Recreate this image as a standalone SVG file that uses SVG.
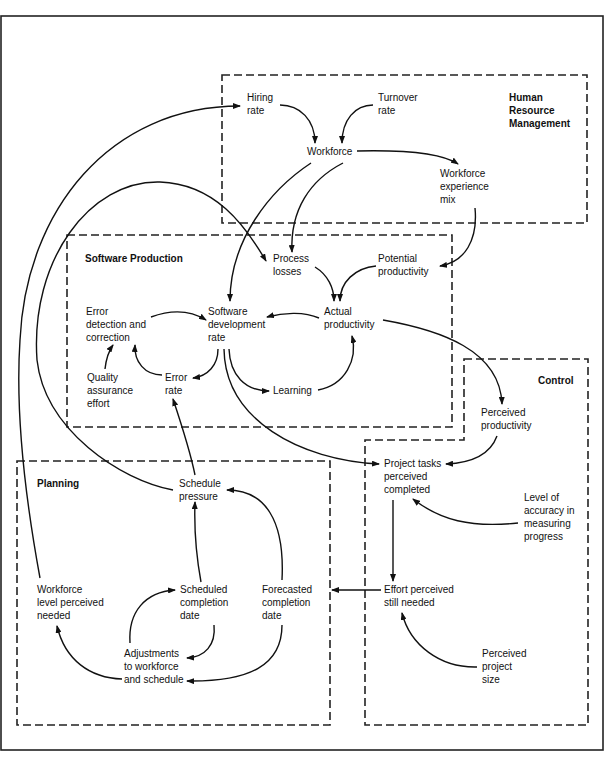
<svg xmlns="http://www.w3.org/2000/svg" width="606" height="767" viewBox="0 0 606 767">
<style>
text{font-family:"Liberation Sans",Arial,sans-serif;font-size:10px;fill:#111}
.t{font-weight:bold}
.box{fill:none;stroke:#222;stroke-width:1.6;stroke-dasharray:8 4}
.c{fill:none;stroke:#111;stroke-width:1.4;marker-end:url(#ah)}
.n{fill:none;stroke:#111;stroke-width:1.4}
</style>
<defs>
<marker id="ah" markerUnits="userSpaceOnUse" markerWidth="8" markerHeight="6" refX="7" refY="3" orient="auto">
<path d="M0,0 L8,3 L0,6 z" fill="#111"/>
</marker>
</defs>
<rect x="0" y="0" width="606" height="767" fill="#fff"/>
<rect x="1" y="16" width="602" height="734" fill="none" stroke="#222" stroke-width="1.6"/>

<g id="regions">
<rect id="hrm-box" class="box" x="222" y="75" width="365" height="148"/>
<rect id="sp-box" class="box" x="67" y="235" width="385" height="192"/>
<path id="control-box" class="box" d="M464,359 L588,359 L588,725 L365,725 L365,440 L464,440 Z"/>
<rect id="planning-box" class="box" x="17" y="461" width="313" height="264"/>
<text class="t" x="509" y="101"><tspan x="509">Human</tspan><tspan x="509" dy="13">Resource</tspan><tspan x="509" dy="13">Management</tspan></text>
<text class="t" x="85" y="262">Software Production</text>
<text class="t" x="538" y="384">Control</text>
<text class="t" x="37" y="487">Planning</text>
</g>

<g id="connectors">
<path class="c" d="M40,578 C22,480 16,400 20,340 C26,210 110,106 240,106"/>
<path class="c" d="M173,490 C120,480 45,430 37,360 C30,260 90,180 160,182 C215,184 245,225 266,261"/>
<path class="c" d="M280,105 C300,105 315,120 315,143"/>
<path class="c" d="M373,105 C355,105 342,120 342,143"/>
<path class="c" d="M357,151 C400,150 440,152 458,164"/>
<path class="c" d="M311,163 C270,190 230,240 230,301"/>
<path class="c" d="M343,163 C310,180 290,210 292,252"/>
<path class="c" d="M475,208 C478,240 465,262 440,266"/>
<path class="c" d="M315,267 C328,275 334,288 334,301"/>
<path class="c" d="M376,266 C355,268 340,282 340,301"/>
<path class="c" d="M319,318 C305,312 285,312 267,317"/>
<path class="c" d="M151,317 C170,310 190,310 206,320"/>
<path class="c" d="M105,369 C106,360 108,352 113,345"/>
<path class="c" d="M162,375 C145,375 134,362 135,345"/>
<path class="c" d="M218,349 C218,365 208,376 193,378"/>
<path class="c" d="M229,349 C230,375 245,391 269,391"/>
<path class="c" d="M318,390 C345,385 358,360 352,336"/>
<path class="c" d="M224,349 C225,420 300,460 379,464"/>
<path class="c" d="M383,320 C440,330 500,350 502,404"/>
<path class="c" d="M497,436 C490,455 470,463 446,464"/>
<path class="c" d="M518,523 C470,528 440,520 413,499"/>
<path class="c" d="M393,500 L393,581"/>
<path class="c" d="M381,590 L332,590"/>
<path class="c" d="M477,667 C440,668 410,645 402,613"/>
<path class="c" d="M195,475 C190,450 180,420 173,399"/>
<path class="c" d="M201,582 C196,555 194,530 195,502"/>
<path class="c" d="M282,580 C285,520 265,490 227,490"/>
<path class="c" d="M214,625 C216,645 205,657 187,658"/>
<path class="c" d="M130,643 C128,612 145,592 175,590"/>
<path class="c" d="M282,625 C282,665 250,682 187,681"/>
<path class="c" d="M122,679 C90,678 65,660 57,626"/>
</g>

<g id="hiring-rate"><text x="247" y="101"><tspan x="247">Hiring</tspan><tspan x="247" dy="13">rate</tspan></text></g>
<g id="turnover-rate"><text x="378" y="101"><tspan x="378">Turnover</tspan><tspan x="378" dy="13">rate</tspan></text></g>
<g id="workforce"><text x="307" y="155">Workforce</text></g>
<g id="workforce-experience-mix"><text x="440" y="177"><tspan x="440">Workforce</tspan><tspan x="440" dy="13">experience</tspan><tspan x="440" dy="13">mix</tspan></text></g>
<g id="process-losses"><text x="273" y="262"><tspan x="273">Process</tspan><tspan x="273" dy="13">losses</tspan></text></g>
<g id="potential-productivity"><text x="378" y="262"><tspan x="378">Potential</tspan><tspan x="378" dy="13">productivity</tspan></text></g>
<g id="error-detection"><text x="86" y="315"><tspan x="86">Error</tspan><tspan x="86" dy="13">detection and</tspan><tspan x="86" dy="13">correction</tspan></text></g>
<g id="software-development-rate"><text x="208" y="315"><tspan x="208">Software</tspan><tspan x="208" dy="13">development</tspan><tspan x="208" dy="13">rate</tspan></text></g>
<g id="actual-productivity"><text x="324" y="315"><tspan x="324">Actual</tspan><tspan x="324" dy="13">productivity</tspan></text></g>
<g id="quality-assurance-effort"><text x="87" y="381"><tspan x="87">Quality</tspan><tspan x="87" dy="13">assurance</tspan><tspan x="87" dy="13">effort</tspan></text></g>
<g id="error-rate"><text x="165" y="381"><tspan x="165">Error</tspan><tspan x="165" dy="13">rate</tspan></text></g>
<g id="learning"><text x="273" y="394">Learning</text></g>
<g id="perceived-productivity"><text x="481" y="416"><tspan x="481">Perceived</tspan><tspan x="481" dy="13">productivity</tspan></text></g>
<g id="project-tasks-perceived-completed"><text x="384" y="467"><tspan x="384">Project tasks</tspan><tspan x="384" dy="13">perceived</tspan><tspan x="384" dy="13">completed</tspan></text></g>
<g id="level-of-accuracy"><text x="524" y="501"><tspan x="524">Level of</tspan><tspan x="524" dy="13">accuracy in</tspan><tspan x="524" dy="13">measuring</tspan><tspan x="524" dy="13">progress</tspan></text></g>
<g id="effort-perceived-still-needed"><text x="384" y="593"><tspan x="384">Effort perceived</tspan><tspan x="384" dy="13">still needed</tspan></text></g>
<g id="perceived-project-size"><text x="482" y="657"><tspan x="482">Perceived</tspan><tspan x="482" dy="13">project</tspan><tspan x="482" dy="13">size</tspan></text></g>
<g id="schedule-pressure"><text x="179" y="487"><tspan x="179">Schedule</tspan><tspan x="179" dy="13">pressure</tspan></text></g>
<g id="workforce-level-perceived-needed"><text x="37" y="593"><tspan x="37">Workforce</tspan><tspan x="37" dy="13">level perceived</tspan><tspan x="37" dy="13">needed</tspan></text></g>
<g id="scheduled-completion-date"><text x="180" y="593"><tspan x="180">Scheduled</tspan><tspan x="180" dy="13">completion</tspan><tspan x="180" dy="13">date</tspan></text></g>
<g id="forecasted-completion-date"><text x="262" y="593"><tspan x="262">Forecasted</tspan><tspan x="262" dy="13">completion</tspan><tspan x="262" dy="13">date</tspan></text></g>
<g id="adjustments"><text x="124" y="657"><tspan x="124">Adjustments</tspan><tspan x="124" dy="13">to workforce</tspan><tspan x="124" dy="13">and schedule</tspan></text></g>
</svg>
